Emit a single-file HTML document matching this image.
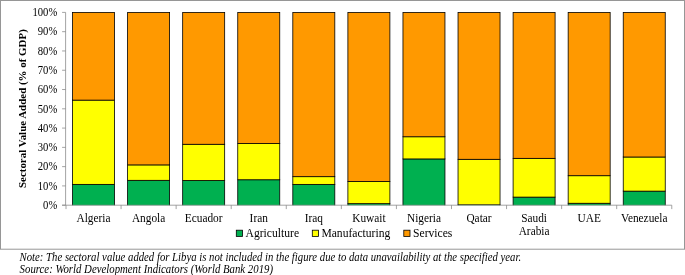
<!DOCTYPE html>
<html><head><meta charset="utf-8"><title>Sectoral Value Added</title>
<style>
html,body{margin:0;padding:0;background:#fff;}
body{width:685px;height:275px;overflow:hidden;position:relative;font-family:"Liberation Serif",serif;}
svg{position:absolute;left:0;top:0;display:block}
svg text{font-family:"Liberation Serif",serif;fill:#000}
</style></head><body>
<svg width="685" height="275" viewBox="0 0 685 275">
<rect x="0.5" y="0.5" width="684" height="248.7" fill="#fff" stroke="#969696" stroke-width="1"/>

<defs><clipPath id="cp"><rect x="0" y="0" width="685" height="205.20"/></clipPath></defs>
<g clip-path="url(#cp)">
<rect x="72.53" y="184.38" width="42.00" height="23.82" fill="#00B050" stroke="#000" stroke-width="0.8"/>
<rect x="72.53" y="100.12" width="42.00" height="84.25" fill="#FFFF00" stroke="#000" stroke-width="0.8"/>
<rect x="72.53" y="12.40" width="42.00" height="87.72" fill="#FF9900" stroke="#000" stroke-width="0.8"/>
<rect x="127.60" y="180.33" width="42.00" height="27.87" fill="#00B050" stroke="#000" stroke-width="0.8"/>
<rect x="127.60" y="164.90" width="42.00" height="15.42" fill="#FFFF00" stroke="#000" stroke-width="0.8"/>
<rect x="127.60" y="12.40" width="42.00" height="152.50" fill="#FF9900" stroke="#000" stroke-width="0.8"/>
<rect x="182.67" y="180.52" width="42.00" height="27.68" fill="#00B050" stroke="#000" stroke-width="0.8"/>
<rect x="182.67" y="144.28" width="42.00" height="36.25" fill="#FFFF00" stroke="#000" stroke-width="0.8"/>
<rect x="182.67" y="12.40" width="42.00" height="131.88" fill="#FF9900" stroke="#000" stroke-width="0.8"/>
<rect x="237.75" y="179.75" width="42.00" height="28.45" fill="#00B050" stroke="#000" stroke-width="0.8"/>
<rect x="237.75" y="143.50" width="42.00" height="36.25" fill="#FFFF00" stroke="#000" stroke-width="0.8"/>
<rect x="237.75" y="12.40" width="42.00" height="131.10" fill="#FF9900" stroke="#000" stroke-width="0.8"/>
<rect x="292.81" y="184.38" width="42.00" height="23.82" fill="#00B050" stroke="#000" stroke-width="0.8"/>
<rect x="292.81" y="176.67" width="42.00" height="7.71" fill="#FFFF00" stroke="#000" stroke-width="0.8"/>
<rect x="292.81" y="12.40" width="42.00" height="164.27" fill="#FF9900" stroke="#000" stroke-width="0.8"/>
<rect x="347.89" y="203.66" width="42.00" height="4.54" fill="#00B050" stroke="#000" stroke-width="0.8"/>
<rect x="347.89" y="181.49" width="42.00" height="22.17" fill="#FFFF00" stroke="#000" stroke-width="0.8"/>
<rect x="347.89" y="12.40" width="42.00" height="169.09" fill="#FF9900" stroke="#000" stroke-width="0.8"/>
<rect x="402.96" y="158.93" width="42.00" height="49.27" fill="#00B050" stroke="#000" stroke-width="0.8"/>
<rect x="402.96" y="136.76" width="42.00" height="22.17" fill="#FFFF00" stroke="#000" stroke-width="0.8"/>
<rect x="402.96" y="12.40" width="42.00" height="124.36" fill="#FF9900" stroke="#000" stroke-width="0.8"/>
<rect x="458.03" y="204.81" width="42.00" height="3.39" fill="#00B050" stroke="#000" stroke-width="0.8"/>
<rect x="458.03" y="159.31" width="42.00" height="45.50" fill="#FFFF00" stroke="#000" stroke-width="0.8"/>
<rect x="458.03" y="12.40" width="42.00" height="146.91" fill="#FF9900" stroke="#000" stroke-width="0.8"/>
<rect x="513.10" y="197.10" width="42.00" height="11.10" fill="#00B050" stroke="#000" stroke-width="0.8"/>
<rect x="513.10" y="158.35" width="42.00" height="38.75" fill="#FFFF00" stroke="#000" stroke-width="0.8"/>
<rect x="513.10" y="12.40" width="42.00" height="145.95" fill="#FF9900" stroke="#000" stroke-width="0.8"/>
<rect x="568.16" y="203.27" width="42.00" height="4.93" fill="#00B050" stroke="#000" stroke-width="0.8"/>
<rect x="568.16" y="175.70" width="42.00" height="27.57" fill="#FFFF00" stroke="#000" stroke-width="0.8"/>
<rect x="568.16" y="12.40" width="42.00" height="163.30" fill="#FF9900" stroke="#000" stroke-width="0.8"/>
<rect x="623.24" y="191.13" width="42.00" height="17.07" fill="#00B050" stroke="#000" stroke-width="0.8"/>
<rect x="623.24" y="157.00" width="42.00" height="34.13" fill="#FFFF00" stroke="#000" stroke-width="0.8"/>
<rect x="623.24" y="12.40" width="42.00" height="144.60" fill="#FF9900" stroke="#000" stroke-width="0.8"/>
</g>
<g stroke="#868686" stroke-width="0.75" fill="none">
<line x1="65.60" y1="12.40" x2="65.60" y2="205.20"/>
<line x1="62.10" y1="205.20" x2="671.77" y2="205.20"/>
<line x1="62.10" y1="205.20" x2="65.60" y2="205.20"/>
<line x1="62.10" y1="185.92" x2="65.60" y2="185.92"/>
<line x1="62.10" y1="166.64" x2="65.60" y2="166.64"/>
<line x1="62.10" y1="147.36" x2="65.60" y2="147.36"/>
<line x1="62.10" y1="128.08" x2="65.60" y2="128.08"/>
<line x1="62.10" y1="108.80" x2="65.60" y2="108.80"/>
<line x1="62.10" y1="89.52" x2="65.60" y2="89.52"/>
<line x1="62.10" y1="70.24" x2="65.60" y2="70.24"/>
<line x1="62.10" y1="50.96" x2="65.60" y2="50.96"/>
<line x1="62.10" y1="31.68" x2="65.60" y2="31.68"/>
<line x1="62.10" y1="12.40" x2="65.60" y2="12.40"/>
<line x1="66.00" y1="205.20" x2="66.00" y2="209.10"/>
<line x1="121.07" y1="205.20" x2="121.07" y2="209.10"/>
<line x1="176.14" y1="205.20" x2="176.14" y2="209.10"/>
<line x1="231.21" y1="205.20" x2="231.21" y2="209.10"/>
<line x1="286.28" y1="205.20" x2="286.28" y2="209.10"/>
<line x1="341.35" y1="205.20" x2="341.35" y2="209.10"/>
<line x1="396.42" y1="205.20" x2="396.42" y2="209.10"/>
<line x1="451.49" y1="205.20" x2="451.49" y2="209.10"/>
<line x1="506.56" y1="205.20" x2="506.56" y2="209.10"/>
<line x1="561.63" y1="205.20" x2="561.63" y2="209.10"/>
<line x1="616.70" y1="205.20" x2="616.70" y2="209.10"/>
<line x1="671.77" y1="205.20" x2="671.77" y2="209.10"/>
</g>
<g font-size="10.67" text-anchor="end">
<text transform="translate(57.3,208.95) scale(1,1.12)">0%</text>
<text transform="translate(57.3,189.67) scale(1,1.12)">10%</text>
<text transform="translate(57.3,170.39) scale(1,1.12)">20%</text>
<text transform="translate(57.3,151.11) scale(1,1.12)">30%</text>
<text transform="translate(57.3,131.83) scale(1,1.12)">40%</text>
<text transform="translate(57.3,112.55) scale(1,1.12)">50%</text>
<text transform="translate(57.3,93.27) scale(1,1.12)">60%</text>
<text transform="translate(57.3,73.99) scale(1,1.12)">70%</text>
<text transform="translate(57.3,54.71) scale(1,1.12)">80%</text>
<text transform="translate(57.3,35.43) scale(1,1.12)">90%</text>
<text transform="translate(57.3,16.15) scale(1,1.12)">100%</text>
</g>
<g font-size="11.35" text-anchor="middle">
<text transform="translate(93.53,222.3) scale(1,1.08)">Algeria</text>
<text transform="translate(148.61,222.3) scale(1,1.08)">Angola</text>
<text transform="translate(203.68,222.3) scale(1,1.08)">Ecuador</text>
<text transform="translate(258.75,222.3) scale(1,1.08)">Iran</text>
<text transform="translate(313.81,222.3) scale(1,1.08)">Iraq</text>
<text transform="translate(368.88,222.3) scale(1,1.08)">Kuwait</text>
<text transform="translate(423.95,222.3) scale(1,1.08)">Nigeria</text>
<text transform="translate(479.02,222.3) scale(1,1.08)">Qatar</text>
<text transform="translate(534.10,222.3) scale(1,1.08)">Saudi</text>
<text transform="translate(534.10,235.15) scale(1,1.08)">Arabia</text>
<text transform="translate(589.16,222.3) scale(1,1.08)">UAE</text>
<text transform="translate(644.24,222.3) scale(1,1.08)">Venezuela</text>
</g>
<text transform="translate(25.7,108.6) rotate(-90)" font-size="10.95" font-weight="bold" text-anchor="middle">Sectoral Value Added (% of GDP)</text>
<g font-size="11.6">
<rect x="236.30" y="230.2" width="6.2" height="6.2" fill="#00B050" stroke="#000" stroke-width="0.8"/>
<text x="245.60" y="236.6">Agriculture</text>
<rect x="312.30" y="230.2" width="6.2" height="6.2" fill="#FFFF00" stroke="#000" stroke-width="0.8"/>
<text x="321.40" y="236.6">Manufacturing</text>
<rect x="403.80" y="230.2" width="6.2" height="6.2" fill="#FF9900" stroke="#000" stroke-width="0.8"/>
<text x="413.10" y="236.6">Services</text>
</g>
<g font-size="10.73" font-style="italic">
<text transform="translate(19.6,260.5) scale(1,1.09)">Note: The sectoral value added for Libya is not included in the figure due to data unavailability at the specified year.</text>
<text font-size="10.8" transform="translate(19.6,272.6) scale(1,1.09)">Source: World Development Indicators (World Bank 2019)</text>
</g>
</svg>
</body></html>
